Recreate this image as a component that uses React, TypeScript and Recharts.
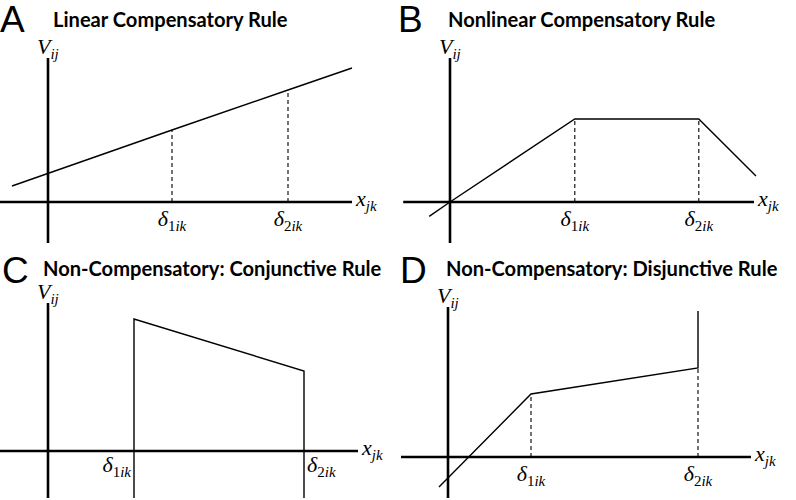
import { LineChart, Line, XAxis, YAxis, ReferenceLine, ReferenceDot } from "recharts";

// panel A: linear compensatory
const aLineX = [-0.9, 3.1, 6.0, 7.6];
const aLineV = [0.4, 1.8, 2.8, 3.35];
const aDeltas = [3.1, 6.0];
const aDashTops = [1.8, 2.8];

// panel B: nonlinear compensatory
const bLineX = [-0.52, 0, 3.12, 6.22, 7.65];
const bLineV = [-0.36, 0, 2.075, 2.075, 0.65];
const bDeltas = [3.12, 6.22];
const bDashTops = [2.075, 2.075];

// panel C: conjunctive
const cLineX = [2.15, 2.15, 6.4, 6.4];
const cLineV = [-1.175, 3.3, 2.0, -1.175];
const cDeltas = [2.15, 6.4];
const cDashTops: number[] = [];

// panel D: disjunctive
const dLineX = [-0.225, 2.075, 6.25, 6.25];
const dLineV = [-0.75, 1.575, 2.225, 3.65];
const dDeltas = [2.075, 6.25];
const dDashTops = [1.575, 2.225];

const titles = [
  "Linear Compensatory Rule",
  "Nonlinear Compensatory Rule",
  "Non-Compensatory: Conjunctive Rule",
  "Non-Compensatory: Disjunctive Rule",
];
const letters = ["A", "B", "C", "D"];

const W = 398;
const H = 250;
const PX = 40; // px per unit
const MATH = "Liberation Serif";

function MathText({ x, y, main, sub }: any) {
  return (
    <text x={x} y={y} fontFamily={MATH} style={{ fontFamily: MATH, fontStyle: "italic", fontSize: 22 }} fill="#000">
      {main}
      <tspan style={{ fontSize: 15 }} dy={5}>{sub}</tspan>
    </text>
  );
}

function DeltaText({ x, y, n, anchor }: any) {
  return (
    <text x={x} y={y} fontFamily={MATH} style={{ fontFamily: MATH, fontSize: 22 }} textAnchor={anchor} fill="#000">
      <tspan style={{ fontStyle: "italic" }}>δ</tspan>
      <tspan style={{ fontSize: 15 }} dy={5}>{n}</tspan>
      <tspan style={{ fontSize: 15, fontStyle: "italic" }}>ik</tspan>
    </text>
  );
}

function Panel({
  left, top, ox, oy, xs, vs, deltas, dashTops, xAxisEnds, yAxisEnds, sideLabels,
}: any) {
  const data = xs.map((x: number, i: number) => ({ x, v: vs[i] }));
  const xDomain = [-ox / PX, (W - ox) / PX];
  const yDomain = [-(H - oy) / PX, oy / PX];
  return (
    <div style={{ position: "absolute", left, top }}>
      <LineChart width={W} height={H} data={data} margin={{ top: 0, right: 0, bottom: 0, left: 0 }}>
        <XAxis dataKey="x" type="number" domain={xDomain} allowDataOverflow hide />
        <YAxis type="number" domain={yDomain} allowDataOverflow hide />
        <ReferenceLine
          segment={[{ x: xAxisEnds[0], y: 0 }, { x: xAxisEnds[1], y: 0 }]}
          stroke="#000" strokeWidth={2.6} ifOverflow="visible"
        />
        <ReferenceLine
          segment={[{ x: 0, y: yAxisEnds[0] }, { x: 0, y: yAxisEnds[1] }]}
          stroke="#000" strokeWidth={2.6} ifOverflow="visible"
        />
        {dashTops.map((t: number, i: number) => (
          <ReferenceLine
            key={i}
            segment={[{ x: deltas[i], y: 0 }, { x: deltas[i], y: t }]}
            stroke="#000" strokeWidth={1.1} strokeDasharray="4 3" ifOverflow="visible"
          />
        ))}
        <Line
          dataKey="v" type="linear" stroke="#000" strokeWidth={1.4}
          dot={false} activeDot={false} isAnimationActive={false}
        />
        <ReferenceDot
          x={0} y={yAxisEnds[1]} r={0} ifOverflow="visible"
          shape={(p: any) => <MathText x={p.cx - 11} y={p.cy - 4} main="V" sub="ij" />}
        />
        <ReferenceDot
          x={xAxisEnds[1]} y={0} r={0} ifOverflow="visible"
          shape={(p: any) => <MathText x={p.cx + 4} y={p.cy + 4} main="x" sub="jk" />}
        />
        {deltas.map((d: number, i: number) => (
          <ReferenceDot
            key={"d" + i}
            x={d} y={0} r={0} ifOverflow="visible"
            shape={(p: any) =>
              sideLabels ? (
                <DeltaText x={i === 0 ? p.cx - 3 : p.cx + 3} y={p.cy + 21} n={i + 1} anchor={i === 0 ? "end" : "start"} />
              ) : (
                <DeltaText x={p.cx} y={p.cy + 24} n={i + 1} anchor="middle" />
              )
            }
          />
        ))}
      </LineChart>
    </div>
  );
}

export default function App() {
  const titleX = [53, 448, 43, 446];
  const letterX = [0, 398, 2, 400];
  return (
    <div style={{ position: "absolute", left: 0, top: 0, width: 796, height: 500, background: "#fff" }}>
      <Panel left={0} top={0} ox={48} oy={202} xs={aLineX} vs={aLineV} deltas={aDeltas} dashTops={aDashTops}
        xAxisEnds={[-1.2, 7.6]} yAxisEnds={[-1.025, 3.6]} />
      <Panel left={398} top={0} ox={52} oy={202} xs={bLineX} vs={bLineV} deltas={bDeltas} dashTops={bDashTops}
        xAxisEnds={[-1.17, 7.6]} yAxisEnds={[-1.025, 3.6]} />
      <Panel left={0} top={250} ox={48} oy={201} xs={cLineX} vs={cLineV} deltas={cDeltas} dashTops={cDashTops}
        xAxisEnds={[-1.2, 7.75]} yAxisEnds={[-1.175, 3.7]} sideLabels />
      <Panel left={398} top={250} ox={50} oy={207} xs={dLineX} vs={dLineV} deltas={dDeltas} dashTops={dDashTops}
        xAxisEnds={[-1.175, 7.575]} yAxisEnds={[-1.025, 3.75]} />
      <svg width={796} height={500} style={{ position: "absolute", left: 0, top: 0, pointerEvents: "none" }}>
        {letters.map((l, i) => (
          <text key={l} x={letterX[i]} y={i < 2 ? 32 : 283} style={{ fontFamily: "Liberation Sans", fontSize: 37 }} fill="#000">
            {l}
          </text>
        ))}
        {titles.map((t, i) => (
          <text key={t} x={titleX[i]} y={i < 2 ? 27 : 276} style={{ fontFamily: "Lato", fontWeight: 700, fontSize: 20.1 }} fill="#000">
            {t}
          </text>
        ))}
      </svg>
    </div>
  );
}
